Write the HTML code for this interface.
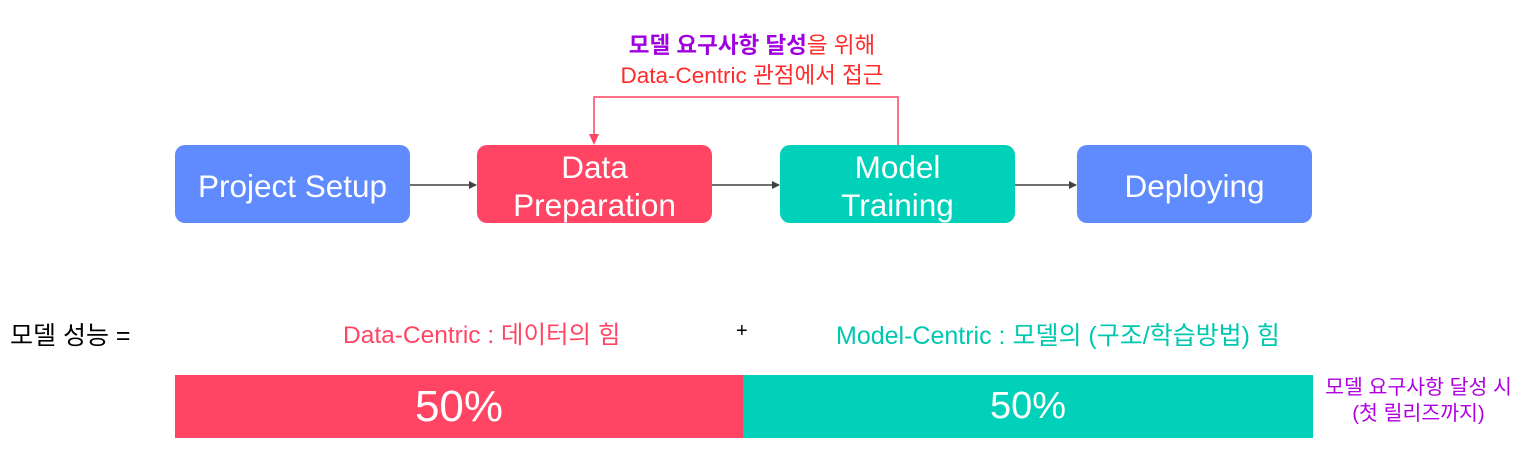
<!DOCTYPE html>
<html><head><meta charset="utf-8"><style>
body{margin:0;width:1524px;height:449px;background:#fff;position:relative;overflow:hidden;font-family:"Liberation Sans","Noto Sans CJK KR",sans-serif}
.b{position:absolute;top:145px;height:78px;width:235px;border-radius:10px;color:#fff;font-size:31.5px;display:flex;align-items:center;justify-content:center;text-align:center;line-height:38px;padding-top:3px;box-sizing:border-box}
.t{position:absolute;white-space:nowrap}
</style></head><body>
<svg style="position:absolute;left:0;top:0" width="1524" height="449">
<defs><marker id="a" markerWidth="8" markerHeight="8" refX="7" refY="4" orient="auto" markerUnits="userSpaceOnUse"><path d="M0,0L8,4L0,8z" fill="#404040"/></marker></defs>
<line x1="410" y1="185" x2="476" y2="185" stroke="#404040" stroke-width="1.5" marker-end="url(#a)"/>
<line x1="712" y1="185" x2="779" y2="185" stroke="#404040" stroke-width="1.5" marker-end="url(#a)"/>
<line x1="1015" y1="185" x2="1076" y2="185" stroke="#404040" stroke-width="1.5" marker-end="url(#a)"/>
<polyline points="898,145 898,97 594,97 594,137" fill="none" stroke="#ff4563" stroke-width="1.5"/>
<path d="M589,134L599,134L594,145z" fill="#ff4563"/>
</svg>
<div class="b" style="left:175px;background:#5f8bff">Project Setup</div>
<div class="b" style="left:477px;background:#ff4563">Data<br>Preparation</div>
<div class="b" style="left:780px;background:#00d1b8">Model<br>Training</div>
<div class="b" style="left:1077px;background:#5f8bff">Deploying</div>
<div class="t" style="left:552px;top:31px;width:400px;text-align:center;font-size:22.5px;color:#ff2b2b;line-height:30px"><b style="color:#a000e0">모델 요구사항 달성</b>을 위해<br>Data-Centric 관점에서 접근</div>
<div class="t" style="left:10px;top:316px;font-size:25px;color:#000">모델 성능 =</div>
<div class="t" style="left:343px;top:316px;font-size:24.5px;color:#ff4563">Data-Centric : 데이터의 힘</div>
<div class="t" style="left:736px;top:320px;font-size:20px;color:#000">+</div>
<div class="t" style="left:836px;top:316px;font-size:25px;color:#00c8b0">Model-Centric : 모델의 (구조/학습방법) 힘</div>
<div style="position:absolute;left:175px;top:375px;width:568px;height:63px;background:#ff4563;color:#fff;font-size:44px;display:flex;align-items:center;justify-content:center">50%</div>
<div style="position:absolute;left:743px;top:375px;width:570px;height:63px;background:#00d1b8;color:#fff;font-size:38px;display:flex;align-items:center;justify-content:center">50%</div>
<div class="t" style="left:1313px;top:375px;width:211px;text-align:center;font-size:20.5px;color:#b000e0;line-height:26px">모델 요구사항 달성 시<br>(첫 릴리즈까지)</div>
</body></html>
